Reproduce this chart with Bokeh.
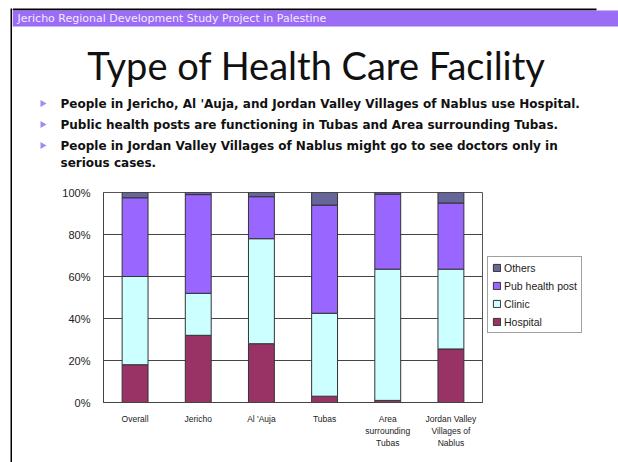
from bokeh.plotting import figure
from bokeh.models import (Range1d, FactorRange, ColumnDataSource, Legend, LegendItem,
                          FixedTicker, NumeralTickFormatter)
from bokeh.layouts import column, row
from bokeh.core.properties import value
from bokeh.embed import file_html
from bokeh.resources import INLINE

# ---------------- data ----------------
categories = ["Overall", "Jericho", "Al 'Auja", "Tubas",
              "Area\nsurrounding\nTubas", "Jordan Valley\nVillages of\nNablus"]
hospital = [18, 32, 28, 3, 1, 25.5]
clinic = [42, 20, 50, 39.5, 62.5, 38]
pub_health_post = [37.5, 47, 20, 51.5, 35.7, 31.5]
others = [2.5, 1, 2, 6, 0.8, 5]
series_names = ["Hospital", "Clinic", "Pub health post", "Others"]
series_colors = ["#993366", "#CCFFFF", "#9966FF", "#666699"]
y_ticks = [0, 0.2, 0.4, 0.6, 0.8, 1.0]

header_text = "Jericho Regional Development Study Project in Palestine"
title_text = "Type of Health Care Facility"
bullet_lines = [
    "People in Jericho, Al 'Auja, and Jordan Valley Villages of Nablus use Hospital.",
    "Public health posts are functioning in Tubas and Area surrounding Tubas.",
    "People in Jordan Valley Villages of Nablus might go to see doctors only in",
    "serious cases.",
]

PAGE_W, PAGE_H = 618, 462
STRIP_W = 12
TOP_H = 178
BOT_H = PAGE_H - TOP_H
MAIN_W = PAGE_W - STRIP_W
CHART_W = 471
LEG_W = MAIN_W - CHART_W


def bare(fig):
    fig.axis.visible = False
    fig.grid.visible = False
    fig.outline_line_color = None
    fig.background_fill_color = "white"
    fig.border_fill_color = "white"
    fig.frame_align = False


# ---------------- left slide border ----------------
strip = figure(width=STRIP_W, height=PAGE_H, x_range=Range1d(0, STRIP_W),
               y_range=Range1d(PAGE_H, 0), output_backend="svg",
               toolbar_location=None, min_border=0)
bare(strip)
strip.quad(left=[10], right=[12], top=[8], bottom=[PAGE_H], fill_color="black", line_color=None)

# ---------------- top (slide header) ----------------
top = figure(width=MAIN_W, height=TOP_H, x_range=Range1d(STRIP_W, PAGE_W),
             y_range=Range1d(TOP_H, 0), output_backend="svg",
             toolbar_location=None, min_border=0)
bare(top)
top.quad(left=[STRIP_W], right=[596], top=[8], bottom=[10], fill_color="black", line_color=None)
top.quad(left=[STRIP_W], right=[PAGE_W], top=[10], bottom=[26], fill_color="#9b6cf6", line_color=None)

top.text(x=[17], y=[18], text=[header_text], text_font=value("DejaVu Sans"),
         text_font_size="11px", text_color="#f3edff", text_baseline="middle",
         text_align="left")
top.text(x=[316], y=[64.5], text=[title_text], text_font=value("Lato"),
         text_font_size="38px", text_color="#111111", text_baseline="middle",
         text_align="center")

tri_y = [103, 124, 145]
top.patches(xs=[[40, 46, 40] for _ in tri_y],
            ys=[[y - 3.5, y, y + 3.5] for y in tri_y],
            fill_color="#9f8cf0", line_color=None)
text_y = [103, 124, 145, 162]
top.text(x=[60] * 4, y=text_y, text=bullet_lines, text_font=value("DejaVu Sans"),
         text_font_size="12px", text_font_style="bold", text_color="#111111",
         text_baseline="middle", text_align="left")

# ---------------- bottom (chart) ----------------
source = ColumnDataSource(dict(
    cat=categories,
    hospital=[v / 100 for v in hospital],
    clinic=[v / 100 for v in clinic],
    pub=[v / 100 for v in pub_health_post],
    others=[v / 100 for v in others],
))

p = figure(width=CHART_W, height=BOT_H, x_range=FactorRange(*categories), y_range=Range1d(0, 1),
           output_backend="svg", toolbar_location=None,
           min_border_left=91, min_border_right=1, min_border_top=14, min_border_bottom=60)
p.background_fill_color = "white"
p.border_fill_color = "white"
p.outline_line_color = "#555555"
p.frame_align = False

renderers = p.vbar_stack(["hospital", "clinic", "pub", "others"], x="cat", width=0.41,
                         color=series_colors, line_color="#333333", line_width=1,
                         source=source)

p.xgrid.visible = False
p.ygrid.grid_line_color = "#444444"
p.ygrid.grid_line_width = 1
p.ygrid.ticker = FixedTicker(ticks=y_ticks)

p.yaxis.ticker = FixedTicker(ticks=y_ticks)
p.yaxis.formatter = NumeralTickFormatter(format="0%")
p.yaxis.major_tick_line_color = None
p.yaxis.minor_tick_line_color = None
p.yaxis.axis_line_color = "#444444"
p.yaxis.major_label_text_font = "Liberation Sans"
p.yaxis.major_label_text_font_size = "11px"
p.yaxis.major_label_text_color = "#222222"
p.yaxis.major_label_standoff = 7

p.xaxis.major_tick_line_color = None
p.xaxis.axis_line_color = "#444444"
p.xaxis.major_label_text_font = "Liberation Sans"
p.xaxis.major_label_text_font_size = "8.5px"
p.xaxis.major_label_text_color = "#222222"
p.xaxis.major_label_standoff = 5

# ---------------- legend (own panel to the right of the chart) ----------------
lg = figure(width=LEG_W, height=BOT_H, x_range=Range1d(0, 1), y_range=Range1d(0, 1),
            output_backend="svg", toolbar_location=None, min_border=0)
bare(lg)
# zero-size swatch renderers hidden beneath the legend box; they only supply legend glyphs
leg_renderers = [lg.quad(left=[0.3], right=[0.3], bottom=[0.6], top=[0.6],
                         fill_color=c, line_color="#333333")
                 for c in series_colors]
items = [LegendItem(label=series_names[i], renderers=[leg_renderers[i]]) for i in (3, 2, 1, 0)]
legend = Legend(items=items, location=(4, 129))
legend.label_text_font = "Liberation Sans"
legend.label_text_font_size = "10.5px"
legend.label_text_color = "#222222"
legend.glyph_width = 9
legend.glyph_height = 9
legend.label_height = 13
legend.label_standoff = 3
legend.spacing = 5
legend.padding = 4
legend.margin = 0
legend.border_line_color = "#444444"
legend.background_fill_color = "white"
legend.background_fill_alpha = 1
lg.add_layout(legend)

layout = row(strip, column(top, row(p, lg, spacing=0), spacing=0), spacing=0)

open("out.html", "w").write(file_html(layout, INLINE))
